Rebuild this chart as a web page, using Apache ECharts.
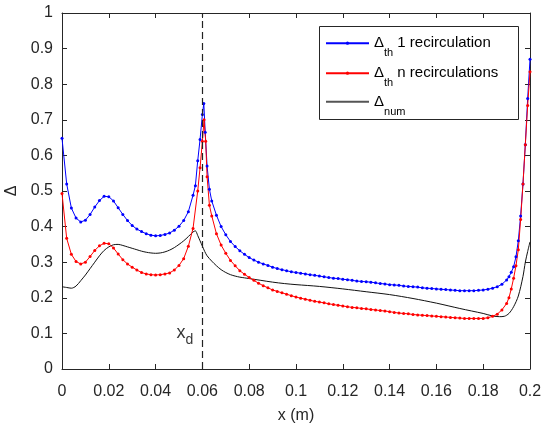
<!DOCTYPE html>
<html>
<head>
<meta charset="utf-8">
<script src="https://cdn.jsdelivr.net/npm/echarts@6/dist/echarts.min.js"></script>
<style>html,body{margin:0;padding:0;background:#fff}#c{width:544px;height:423px}</style>
</head>
<body>
<div id="c"></div>
<script>
// ---- data ----
const xTickLabels = ['0','0.02','0.04','0.06','0.08','0.1','0.12','0.14','0.16','0.18','0.2'];
const yTickLabels = ['0','0.1','0.2','0.3','0.4','0.5','0.6','0.7','0.8','0.9','1'];
const seriesNames = ['Δth 1 recirculation','Δth n recirculations','Δnum'];
const xd = 0.0605;
const xdLabelPos = [0.0525, 0.1];

const blueData = [
[0,0.648],[0.002,0.52],[0.004,0.452],[0.006,0.424],[0.008,0.413],[0.010,0.418],[0.012,0.434],[0.014,0.455],[0.016,0.473],[0.018,0.485],
[0.020,0.484],[0.022,0.472],[0.024,0.453],[0.026,0.434],[0.028,0.417],[0.030,0.403],[0.032,0.393],[0.034,0.386],[0.036,0.380],[0.038,0.376],
[0.040,0.374],[0.042,0.375],[0.044,0.378],[0.046,0.382],[0.048,0.390],[0.050,0.401],[0.052,0.417],[0.054,0.442],[0.056,0.488],[0.057,0.515],
[0.058,0.585],[0.059,0.645],[0.060,0.715],[0.0606,0.746],[0.0612,0.665],[0.062,0.570],[0.063,0.505],[0.064,0.472],[0.066,0.432],[0.068,0.400],[0.070,0.377],
[0.072,0.358],[0.074,0.344],[0.076,0.332],[0.078,0.322],[0.080,0.313],[0.082,0.306],[0.084,0.300],[0.086,0.295],[0.088,0.291],[0.090,0.286],
[0.092,0.282],[0.094,0.279],[0.096,0.276],[0.098,0.273],[0.100,0.271],[0.102,0.269],[0.104,0.267],[0.106,0.265],[0.108,0.263],[0.110,0.261],
[0.112,0.259],[0.114,0.257],[0.116,0.255],[0.118,0.254],[0.120,0.252],[0.122,0.251],[0.124,0.249],[0.126,0.247],[0.128,0.246],[0.130,0.245],
[0.132,0.244],[0.134,0.242],[0.136,0.240],[0.138,0.239],[0.140,0.237],[0.142,0.236],[0.144,0.235],[0.146,0.233],[0.148,0.232],[0.150,0.231],
[0.152,0.230],[0.154,0.228],[0.156,0.227],[0.158,0.226],[0.160,0.225],[0.162,0.224],[0.164,0.223],[0.166,0.222],[0.168,0.221],[0.170,0.220],
[0.172,0.220],[0.174,0.220],[0.176,0.220],[0.178,0.221],[0.180,0.222],[0.182,0.224],[0.184,0.227],[0.186,0.231],[0.188,0.238],[0.190,0.250],
[0.191,0.259],[0.192,0.272],[0.193,0.287],[0.194,0.315],[0.195,0.360],[0.196,0.430],[0.197,0.520],[0.198,0.630],[0.199,0.760],[0.200,0.870]
];

const redData = [
[0,0.493],[0.002,0.367],[0.004,0.322],[0.006,0.302],[0.008,0.295],[0.010,0.300],[0.012,0.316],[0.014,0.333],[0.016,0.346],[0.018,0.353],
[0.020,0.352],[0.022,0.340],[0.024,0.323],[0.026,0.307],[0.028,0.295],[0.030,0.286],[0.032,0.278],[0.034,0.271],[0.036,0.267],[0.038,0.265],
[0.040,0.264],[0.042,0.265],[0.044,0.267],[0.046,0.270],[0.048,0.278],[0.050,0.291],[0.052,0.310],[0.054,0.345],[0.056,0.395],[0.058,0.500],
[0.059,0.565],[0.060,0.640],[0.0607,0.700],[0.0614,0.640],[0.062,0.540],[0.063,0.460],[0.064,0.430],[0.066,0.380],[0.068,0.348],[0.070,0.325],
[0.072,0.305],[0.074,0.290],[0.076,0.276],[0.078,0.266],[0.080,0.257],[0.082,0.249],[0.084,0.241],[0.086,0.234],[0.088,0.228],[0.090,0.222],
[0.092,0.218],[0.094,0.214],[0.096,0.210],[0.098,0.206],[0.100,0.202],[0.102,0.199],[0.104,0.196],[0.106,0.193],[0.108,0.190],[0.110,0.188],
[0.112,0.186],[0.114,0.183],[0.116,0.181],[0.118,0.179],[0.120,0.177],[0.122,0.175],[0.124,0.173],[0.126,0.172],[0.128,0.170],[0.130,0.169],
[0.132,0.167],[0.134,0.166],[0.136,0.164],[0.138,0.163],[0.140,0.161],[0.142,0.159],[0.144,0.157],[0.146,0.156],[0.148,0.155],[0.150,0.153],
[0.152,0.152],[0.154,0.151],[0.156,0.150],[0.158,0.149],[0.160,0.148],[0.162,0.147],[0.164,0.146],[0.166,0.145],[0.168,0.144],[0.170,0.143],
[0.172,0.142],[0.174,0.142],[0.176,0.142],[0.178,0.142],[0.180,0.142],[0.182,0.144],[0.184,0.148],[0.186,0.154],[0.188,0.166],[0.190,0.184],
[0.191,0.200],[0.192,0.225],[0.193,0.255],[0.194,0.290],[0.195,0.335],[0.196,0.420],[0.197,0.520],[0.198,0.630],[0.199,0.740],[0.200,0.835]
];

const numData = [
[0,0.231],[0.002,0.229],[0.004,0.227],[0.006,0.233],[0.008,0.248],[0.010,0.264],[0.012,0.282],[0.014,0.300],[0.016,0.318],[0.018,0.333],
[0.020,0.343],[0.022,0.349],[0.024,0.350],[0.026,0.347],[0.028,0.343],[0.030,0.339],[0.032,0.335],[0.034,0.331],[0.036,0.328],[0.038,0.326],
[0.040,0.325],[0.042,0.326],[0.044,0.329],[0.046,0.334],[0.048,0.341],[0.050,0.350],[0.052,0.360],[0.054,0.372],[0.056,0.385],[0.057,0.388],
[0.058,0.375],[0.059,0.360],[0.060,0.345],[0.061,0.330],[0.062,0.318],[0.064,0.303],[0.066,0.290],[0.068,0.279],[0.070,0.271],[0.072,0.265],
[0.074,0.261],[0.076,0.258],[0.078,0.256],[0.080,0.254],[0.085,0.249],[0.090,0.244],[0.095,0.240],[0.100,0.237],[0.110,0.232],[0.120,0.225],
[0.130,0.217],[0.140,0.209],[0.150,0.198],[0.160,0.185],[0.170,0.170],[0.175,0.163],[0.180,0.156],[0.184,0.149],[0.187,0.147],[0.189,0.148],
[0.191,0.156],[0.193,0.175],[0.195,0.205],[0.197,0.260],[0.198,0.300],[0.199,0.330],[0.200,0.357]
];

// ---- chart ----
const AX = '#262626';
const FONT = 'Liberation Sans, Arial, sans-serif';
const chart = echarts.init(document.getElementById('c'), null, {renderer: 'canvas'});

const legendRich = {
  b: {fontSize: 15, fontFamily: FONT, color: '#000'},
  s: {fontSize: 11, fontFamily: FONT, color: '#000', padding: [20, 0, 0, 0]}
};
function legendFmt(name) {
  if (name === seriesNames[0]) return '{b|Δ}{s|th}{b| 1 recirculation}';
  if (name === seriesNames[1]) return '{b|Δ}{s|th}{b| n recirculations}';
  return '{b|Δ}{s|num}';
}
function mkLegend(i, top, extra) {
  return Object.assign({
    data: [seriesNames[i]],
    orient: 'vertical',
    left: 325, top: top,
    itemWidth: 43, itemHeight: 4, itemGap: 0,
    padding: 0, z: 10,
    formatter: legendFmt,
    textStyle: {rich: legendRich, fontSize: 15, fontFamily: FONT}
  }, extra || {});
}

const baseAxis = {
  axisLine: {show: true, onZero: false, lineStyle: {color: AX, width: 1}},
  axisTick: {show: true, inside: true, length: 5, lineStyle: {color: AX}},
  splitLine: {show: false}
};

chart.setOption({
  animation: false,
  backgroundColor: '#fff',
  grid: {left: 62, right: 14, top: 13, bottom: 54, containLabel: false, outerBoundsMode: 'none'},
  xAxis: [
    Object.assign({}, baseAxis, {
      type: 'value', min: 0, max: 0.2, interval: 0.02, position: 'bottom',
      name: 'x (m)', nameLocation: 'middle', nameGap: 39,
      nameTextStyle: {color: AX, fontSize: 16, fontFamily: FONT},
      axisLabel: {color: AX, fontSize: 16, fontFamily: FONT, margin: 15,
        formatter: v => xTickLabels[Math.round(v / 0.02)]}
    }),
    Object.assign({}, baseAxis, {
      type: 'value', min: 0, max: 0.2, interval: 0.02, position: 'top',
      axisLabel: {show: false}
    })
  ],
  yAxis: [
    Object.assign({}, baseAxis, {
      type: 'value', min: 0, max: 1, interval: 0.1, position: 'left',
      name: 'Δ', nameLocation: 'middle', nameGap: 39, nameRotate: 90,
      nameTextStyle: {color: AX, fontSize: 16, fontFamily: FONT},
      axisLabel: {color: AX, fontSize: 16, fontFamily: FONT, margin: 9,
        formatter: v => yTickLabels[Math.round(v / 0.1)]}
    }),
    Object.assign({}, baseAxis, {
      type: 'value', min: 0, max: 1, interval: 0.1, position: 'right',
      axisLabel: {show: false}
    })
  ],
  legend: [
    mkLegend(0, 35.7),
    mkLegend(1, 65.7),
    mkLegend(2, 94.3, {itemStyle: {opacity: 0}, lineStyle: {width: 2, color: '#555'}})
  ],
  graphic: [{
    type: 'rect', z: 5, silent: true,
    shape: {x: 319.5, y: 26.5, width: 199, height: 93},
    style: {fill: '#fff', stroke: AX, lineWidth: 1}
  }],
  series: [
    {
      name: seriesNames[0], type: 'line', data: blueData,
      color: '#0000ff', symbol: 'circle', symbolSize: 3, showSymbol: true,
      lineStyle: {width: 1, color: '#0000ff'}, itemStyle: {color: '#0000ff'}, z: 3
    },
    {
      name: seriesNames[1], type: 'line', data: redData,
      color: '#ff0000', symbol: 'circle', symbolSize: 3, showSymbol: true,
      lineStyle: {width: 1, color: '#ff0000'}, itemStyle: {color: '#ff0000'}, z: 3
    },
    {
      name: seriesNames[2], type: 'line', data: numData, smooth: 0.3,
      color: '#000', symbol: 'none', showSymbol: false,
      lineStyle: {width: 1, color: '#111'}, z: 2,
      markLine: {
        silent: true, symbol: ['none', 'none'],
        label: {show: false},
        lineStyle: {color: '#222', width: 1.2, type: [7, 4]},
        data: [{xAxis: xd}]
      }
    },
    {
      name: 'xd', type: 'scatter', data: [xdLabelPos], symbolSize: 0, silent: true,
      label: {
        show: true, position: 'inside', formatter: '{x|x}{s|d}',
        rich: {
          x: {fontSize: 18, fontFamily: FONT, color: '#000'},
          s: {fontSize: 14, fontFamily: FONT, color: '#000', padding: [14, 0, 0, 0]}
        }
      }
    }
  ]
});
</script>
</body>
</html>
